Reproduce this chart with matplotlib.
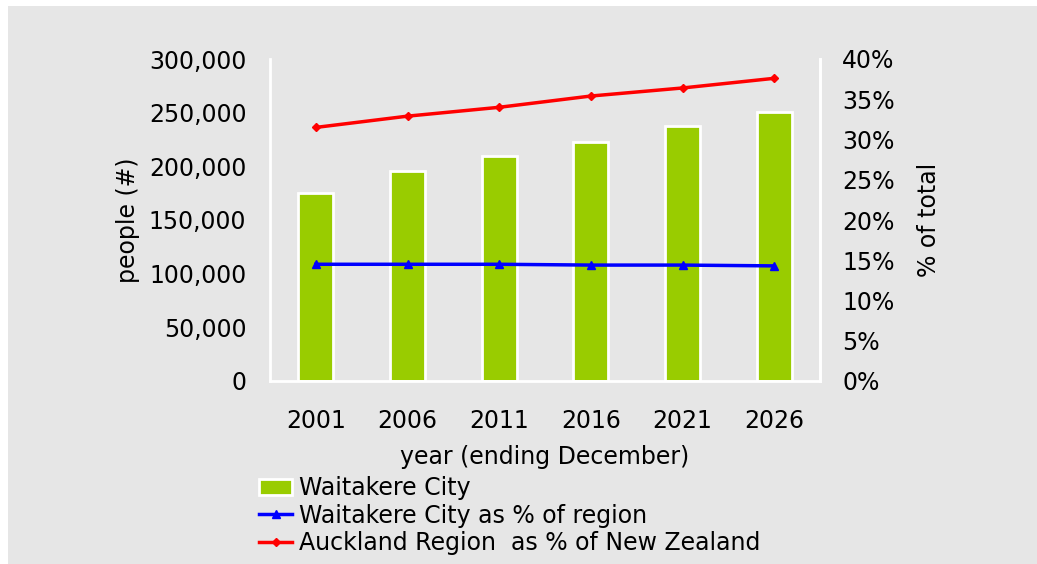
import matplotlib.pyplot as plt
from matplotlib.ticker import FuncFormatter

years = ['2001', '2006', '2011', '2016', '2021', '2026']
population = [175500, 195500, 210000, 223000, 238000, 251000]
city_pct_region = [14.5, 14.5, 14.5, 14.4, 14.4, 14.3]
region_pct_nz = [31.5, 32.9, 34.0, 35.4, 36.4, 37.6]

bg = '#e6e6e6'
green = '#99cc00'

fig = plt.figure(figsize=(10.37, 5.64), dpi=100)
fig.patch.set_facecolor('white')
# grey panel behind the chart
fig.patches.append(plt.Rectangle((8 / 1037, 0), 1, 1 - 6 / 564, transform=fig.transFigure,
                                 facecolor=bg, edgecolor='none', zorder=-10))

ax = fig.add_axes([270 / 1037, 1 - 381 / 564, 550 / 1037, 322 / 564])
ax.set_facecolor(bg)
x = range(len(years))
bars = ax.bar(x, population, width=0.38, color=green, edgecolor='white', linewidth=2,
              label='Waitakere City', zorder=2)
ax.set_xlim(-0.5, 5.5)
ax.set_ylim(0, 300000)
ax.set_yticks(range(0, 300001, 50000))
ax.yaxis.set_major_formatter(FuncFormatter(lambda v, p: f'{int(v):,}'))
ax.set_xticks(list(x))
ax.set_xticklabels(years)
ax.tick_params(length=0, labelsize=17)
ax.tick_params(axis='x', pad=20)
ax.tick_params(axis='y', pad=17)
ax.set_ylabel('people (#)', fontsize=17, labelpad=6)
ax.set_xlabel('year (ending December)', fontsize=17, labelpad=9)
for s in ['left', 'bottom', 'right']:
    ax.spines[s].set_color('white')
    ax.spines[s].set_linewidth(2)
ax.spines['top'].set_visible(False)

ax2 = ax.twinx()
l1, = ax2.plot(x, city_pct_region, color='blue', lw=2.5, marker='^', ms=6,
               label='Waitakere City as % of region', zorder=3)
l2, = ax2.plot(x, region_pct_nz, color='red', lw=2.5, marker='D', ms=4,
               label='Auckland Region  as % of New Zealand', zorder=3)
ax2.set_ylim(0, 40)
ax2.set_yticks(range(0, 41, 5))
ax2.yaxis.set_major_formatter(FuncFormatter(lambda v, p: f'{int(v)}%'))
ax2.tick_params(length=0, labelsize=17, pad=16)
ax2.set_ylabel('% of total', fontsize=17, labelpad=16)
for s in ['left', 'bottom', 'top']:
    ax2.spines[s].set_visible(False)
ax2.spines['right'].set_color('white')
ax2.spines['right'].set_linewidth(2)

fig.legend([bars, l1, l2], [bars.get_label(), l1.get_label(), l2.get_label()],
           loc='upper left', bbox_to_anchor=(245 / 1037, 1 - 462 / 564),
           frameon=False, fontsize=17, handlelength=1.4, handletextpad=0.3,
           labelspacing=0.15, borderpad=0.1)

fig.savefig('out.png', dpi=100, facecolor=fig.get_facecolor())
